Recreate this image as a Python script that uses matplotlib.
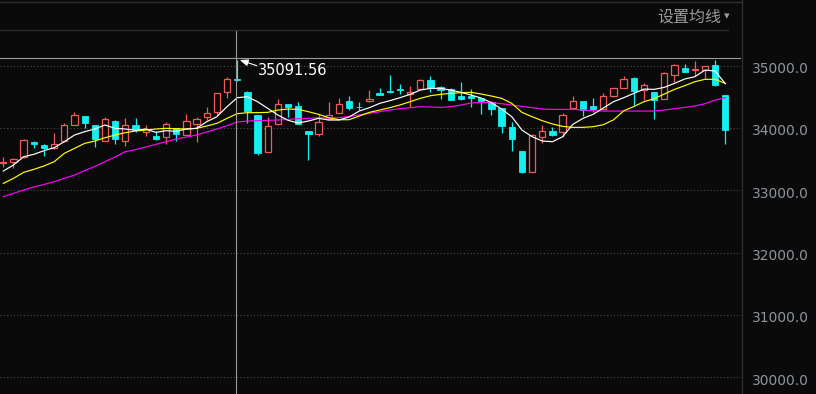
import numpy as np
import matplotlib.pyplot as plt
from matplotlib.lines import Line2D
from matplotlib.transforms import ScaledTranslation

# daily candles (index 0..71)
opens = [33445, 33459, 33529, 33770, 33727, 33673, 33786, 34053, 34192, 34042,
         33796, 34107, 33796, 34042, 33930, 33877, 33850, 34000, 33887, 34069,
         34171, 34251, 34572, 34786, 34577, 34208, 33620, 34058, 34379, 34353,
         33946, 33909, 34149, 34246, 34433, 34342, 34428, 34561, 34593, 34626,
         34545, 34620, 34770, 34658, 34620, 34513, 34519, 34481, 34411, 34321,
         34016, 33625, 33299, 33860, 33946, 33930, 34326, 34433, 34353, 34299,
         34508, 34636, 34802, 34604, 34572, 34460, 34845, 34957, 34925, 34936,
         35005, 34529]
highs = [33529, 33513, 33823, 33786, 33748, 33919, 34074, 34256, 34192, 34042,
         34171, 34128, 34160, 34160, 34048, 33946, 34096, 34000, 34224, 34171,
         34337, 34556, 34818, 35091.56, 34590, 34208, 34181, 34470, 34379, 34412,
         33946, 34219, 34412, 34481, 34513, 34417, 34609, 34642, 34850, 34706,
         34674, 34786, 34834, 34668, 34647, 34738, 34626, 34481, 34433, 34321,
         34090, 33625, 33909, 34048, 34016, 34240, 34508, 34433, 34481, 34561,
         34636, 34834, 34818, 34722, 34572, 34904, 35021, 35021, 35075, 34989,
         35085, 34529]
lows = [33368, 33352, 33523, 33684, 33556, 33663, 33775, 34053, 33994, 33700,
        33786, 33737, 33716, 33930, 33877, 33812, 33748, 33796, 33887, 33780,
        34128, 34208, 34476, 34760, 34085, 33566, 33620, 34058, 34176, 34064,
        33491, 33877, 34139, 34246, 34283, 34283, 34422, 34535, 34556, 34540,
        34331, 34620, 34583, 34470, 34454, 34449, 34342, 34230, 34208, 33925,
        33636, 33283, 33299, 33764, 33871, 33855, 34326, 34192, 34256, 34299,
        34502, 34636, 34369, 34454, 34149, 34460, 34743, 34904, 34840, 34786,
        34674, 33748]
closes = [33450, 33497, 33802, 33743, 33684, 33737, 34042, 34203, 34085, 33828,
          34139, 33828, 34042, 33984, 33989, 33828, 34064, 33898, 34107, 34139,
          34235, 34556, 34781, 34765, 34278, 33598, 34032, 34379, 34337, 34064,
          33909, 34090, 34203, 34390, 34326, 34331, 34465, 34535, 34583, 34615,
          34572, 34770, 34642, 34615, 34454, 34465, 34486, 34433, 34310, 34037,
          33828, 33293, 33882, 33946, 33887, 34203, 34428, 34288, 34305, 34508,
          34636, 34786, 34588, 34684, 34444, 34877, 35005, 34904, 34941, 34989,
          34695, 33973]

# moving average lines as drawn (white / yellow / magenta)
ma_white = [33309, 33406, 33539, 33577, 33636, 33684, 33780, 33887, 33941, 33984,
            34048, 33994, 33984, 33962, 33984, 33930, 33957, 33946, 33984, 33994,
            34101, 34181, 34342, 34486, 34502, 34422, 34315, 34208, 34123, 34080,
            34112, 34155, 34128, 34128, 34176, 34272, 34326, 34395, 34438, 34486,
            34540, 34609, 34636, 34636, 34609, 34572, 34529, 34481, 34406, 34304,
            34181, 33967, 33860, 33791, 33780, 33860, 34058, 34155, 34219, 34321,
            34422, 34486, 34556, 34625, 34620, 34652, 34716, 34786, 34823, 34930,
            34914, 34711]
ma_yellow = [33111, 33192, 33288, 33336, 33390, 33459, 33593, 33673, 33753, 33791,
             33844, 33887, 33925, 33951, 33967, 33984, 33994, 33989, 33984, 33994,
             34032, 34074, 34155, 34230, 34246, 34246, 34251, 34288, 34304, 34299,
             34262, 34219, 34165, 34133, 34133, 34192, 34251, 34288, 34326, 34369,
             34422, 34476, 34518, 34540, 34556, 34567, 34572, 34545, 34513, 34476,
             34395, 34251, 34181, 34117, 34064, 34026, 34010, 34010, 34021, 34053,
             34130, 34275, 34345, 34422, 34470, 34545, 34620, 34679, 34743, 34781,
             34781, 34716]
ma_magenta = [32897, 32951, 33004, 33053, 33095, 33138, 33192, 33245, 33315, 33384,
              33459, 33534, 33620, 33652, 33695, 33737, 33780, 33823, 33855, 33887,
              33935, 33984, 34037, 34096, 34112, 34117, 34123, 34128, 34139, 34149,
              34155, 34165, 34160, 34165, 34187, 34208, 34235, 34262, 34288, 34310,
              34326, 34342, 34337, 34331, 34342, 34369, 34401, 34412, 34406, 34390,
              34369, 34347, 34326, 34304, 34299, 34299, 34299, 34288, 34278, 34272,
              34272, 34272, 34272, 34272, 34272, 34288, 34310, 34331, 34353, 34390,
              34449, 34486]

y_ticks = [30000, 31000, 32000, 33000, 34000, 35000]
peak_idx = 23
peak_text = '35091.56'
cursor_price = 35119

BG = '#0a0a0a'
RED = '#f25a5a'
CYAN = '#14f0f0'

W, H = 816, 394
fig = plt.figure(figsize=(W / 100, H / 100), dpi=100, facecolor=BG)
ax = fig.add_axes([0, 0, 741 / W, (H - 31) / H])
ax.set_facecolor(BG)

o = np.array(opens, float)
c = np.array(closes, float)
hi = np.array(highs, float)
lo = np.array(lows, float)
x = np.arange(len(c))
up = c >= o
top = np.maximum(o, c)
bot = np.minimum(o, c)
body = np.maximum(top - bot, 3)

# wicks: hollow up candles keep the wick outside the body
ax.vlines(x[up], top[up], hi[up], color=RED, lw=0.9, zorder=2)
ax.vlines(x[up], lo[up], bot[up], color=RED, lw=0.9, zorder=2)
ax.vlines(x[~up], lo[~up], hi[~up], color=CYAN, lw=0.9, zorder=2)
ax.bar(x[up], body[up], bottom=bot[up], width=0.62, facecolor=BG,
       edgecolor=RED, linewidth=0.9, zorder=3)
ax.bar(x[~up], body[~up], bottom=bot[~up], width=0.62, facecolor=CYAN,
       edgecolor=CYAN, linewidth=0.6, zorder=3)

ax.plot(x, ma_magenta, color='#ff00ff', lw=0.85, zorder=4)
ax.plot(x, ma_yellow, color='#ffff00', lw=0.85, zorder=4)
ax.plot(x, ma_white, color='#ffffff', lw=0.85, zorder=5)

ax.set_xlim(-0.3245, 72.54)
ax.set_ylim(29730, 35557)
ax.set_xticks([])
ax.set_yticks(y_ticks)
ax.set_yticklabels([f'{v:.1f}' for v in y_ticks])
ax.yaxis.tick_right()
ax.tick_params(axis='y', length=0, pad=8, labelsize=10, labelcolor='#8d949c')
# labels sit a couple of pixels below their grid line
shift = ScaledTranslation(0, -2 / 100, fig.dpi_scale_trans)
for lbl in ax.get_yticklabels():
    lbl.set_transform(lbl.get_transform() + shift)
ax.grid(axis='y', color='#4a4a4a', linestyle=(0, (1, 2)), lw=0.8)
for s in ax.spines.values():
    s.set_visible(False)

# crosshair
ax.axhline(cursor_price, color='#9a9a9a', lw=0.8, zorder=6)
ax.axvline(peak_idx - 0.08, color='#9a9a9a', lw=0.8, zorder=6)

# peak marker
ax.text(25.05, 34930, peak_text, color='white', fontsize=10.5,
        ha='left', va='center', zorder=7)
ax.annotate('', xy=(peak_idx + 0.25, highs[peak_idx]), xytext=(24.92, 35000),
            arrowprops=dict(arrowstyle='-|>,head_length=0.5,head_width=0.2',
                            color='white', lw=0.8, shrinkA=0, shrinkB=0),
            zorder=7)

# frame lines and header
fig.add_artist(Line2D([0, 741 / W], [1 - 2 / H, 1 - 2 / H], color='#2c2c2c', lw=1))
fig.add_artist(Line2D([0, 728 / W], [1 - 30 / H, 1 - 30 / H], color='#2c2c2c', lw=1))
fig.add_artist(Line2D([741.5 / W, 741.5 / W], [0, 1], color='#2c2c2c', lw=1))
fig.text(721 / W, 1 - 17 / H, '设置均线', ha='right', va='center',
         color='#9a9a9a', fontsize=11.5, family=['Noto Sans CJK SC', 'DejaVu Sans'])
fig.text(724 / W, 1 - 16 / H, '▾', ha='left', va='center',
         color='#9a9a9a', fontsize=8)

fig.savefig('out.png', dpi=100, facecolor=BG)
